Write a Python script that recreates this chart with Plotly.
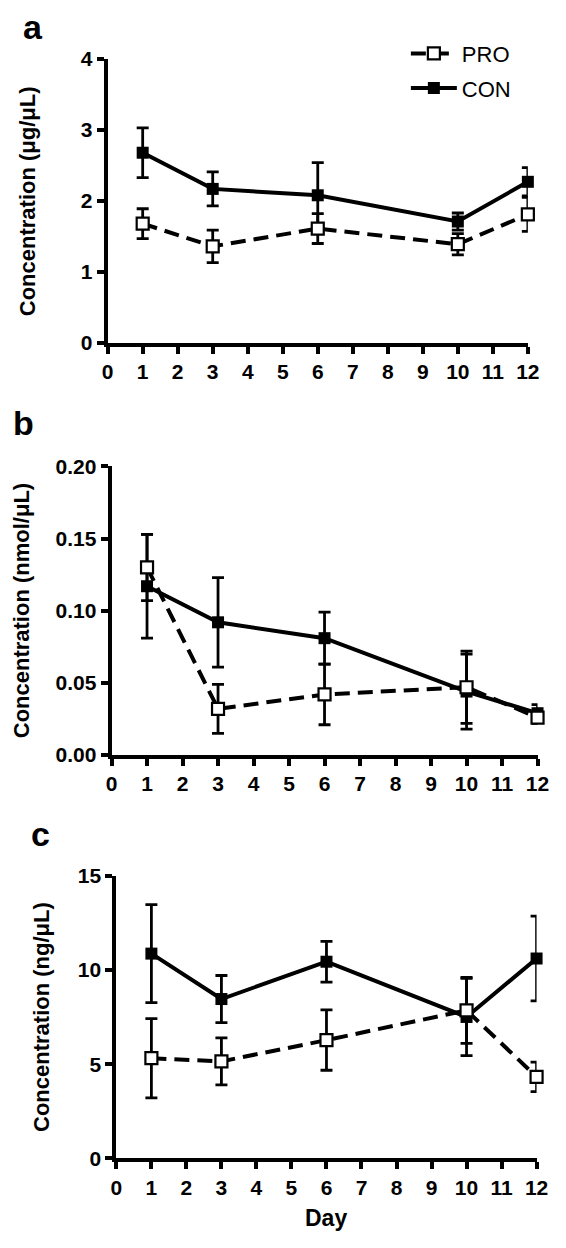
import plotly.graph_objects as go

days = [1, 3, 6, 10, 12]

# Panel a (µg/µL)
a_con = [2.68, 2.17, 2.08, 1.71, 2.27]
a_con_err = [0.35, 0.24, 0.46, 0.12, 0.20]
a_pro = [1.68, 1.36, 1.61, 1.39, 1.81]
a_pro_err = [0.21, 0.23, 0.21, 0.15, 0.24]

# Panel b (nmol/µL)
b_con = [0.117, 0.092, 0.081, 0.044, 0.029]
b_con_err = [0.036, 0.031, 0.018, 0.026, 0.006]
b_pro = [0.130, 0.032, 0.042, 0.047, 0.026]
b_pro_err = [0.023, 0.017, 0.021, 0.025, 0.004]

# Panel c (ng/µL)
c_con = [10.87, 8.46, 10.44, 7.51, 10.61]
c_con_err = [2.6, 1.25, 1.08, 2.05, 2.25]
c_pro = [5.32, 5.15, 6.28, 7.86, 4.33]
c_pro_err = [2.1, 1.25, 1.6, 1.75, 0.78]

x_ticks = list(range(0, 13))
a_yticks = [0, 1, 2, 3, 4]
b_yticks = [0.0, 0.05, 0.10, 0.15, 0.20]
c_yticks = [0, 5, 10, 15]

panel_labels = ["a", "b", "c"]
y_titles = ["Concentration (μg/μL)", "Concentration (nmol/μL)", "Concentration (ng/μL)"]
x_title = "Day"

W, H = 566, 1248
FONT = "Liberation Sans, Arial, Helvetica, sans-serif"

# pixel boxes (left, right, top, bottom)
boxes = [(105, 539, 48, 337), (109, 549, 463, 757), (114, 548, 880, 1168)]

fig = go.Figure()

panels = [
    (a_con, a_con_err, a_pro, a_pro_err),
    (b_con, b_con_err, b_pro, b_pro_err),
    (c_con, c_con_err, c_pro, c_pro_err),
]

for i, (con, con_e, pro, pro_e) in enumerate(panels):
    xa = "x" if i == 0 else f"x{i+1}"
    ya = "y" if i == 0 else f"y{i+1}"
    fig.add_trace(go.Scatter(
        x=days, y=con, name="CON", mode="lines+markers",
        xaxis=xa, yaxis=ya, cliponaxis=False,
        line=dict(color="black", width=4),
        marker=dict(symbol="square", size=12, color="black"),
        error_y=dict(type="data", array=con_e, color="black", thickness=2.8, width=6),
        showlegend=(i == 0), legendgroup="con", legendrank=2,
    ))
    fig.add_trace(go.Scatter(
        x=days, y=pro, name="PRO", mode="lines+markers",
        xaxis=xa, yaxis=ya, cliponaxis=False,
        line=dict(color="black", width=4, dash="15px,8px"),
        marker=dict(symbol="square", size=12, color="white", line=dict(color="black", width=2.2)),
        error_y=dict(type="data", array=pro_e, color="black", thickness=2.8, width=6),
        showlegend=(i == 0), legendgroup="pro", legendrank=1,
    ))

axis_common = dict(
    showline=True, linecolor="black", linewidth=4,
    ticks="outside", ticklen=7, tickwidth=4, tickcolor="black",
    showgrid=False, zeroline=False,
    tickfont=dict(family=FONT, size=21, color="black", weight="bold"),
)

yranges = [(0, 4), (0, 0.2), (0, 15)]
ytickvals = [a_yticks, b_yticks, c_yticks]
ytext = [[str(v) for v in a_yticks], [f"{v:.2f}" for v in b_yticks], [str(v) for v in c_yticks]]

layout = {}
for i, (l, r, t, b) in enumerate(boxes):
    suffix = "" if i == 0 else str(i + 1)
    layout[f"xaxis{suffix}"] = dict(
        domain=[l / W, r / W], range=[0, 12], anchor=f"y{suffix}",
        tickvals=x_ticks, ticktext=[str(v) for v in x_ticks], **axis_common,
    )
    layout[f"yaxis{suffix}"] = dict(
        domain=[1 - b / H, 1 - t / H], range=list(yranges[i]), anchor=f"x{suffix}",
        tickvals=ytickvals[i], ticktext=ytext[i], **axis_common,
    )

annotations = []
label_pos = [(15, 15), (5, 419), (24, 837)]
title_x = [23, 16, 36]
for i, (l, r, t, b) in enumerate(boxes):
    annotations.append(dict(
        text=panel_labels[i], x=label_pos[i][0] / W, y=1 - label_pos[i][1] / H,
        xref="paper", yref="paper", xanchor="left", yanchor="middle", showarrow=False,
        font=dict(family=FONT, size=34, color="black", weight="bold"),
    ))
    annotations.append(dict(
        text=y_titles[i], x=title_x[i] / W, y=1 - (t + b) / 2 / H,
        xref="paper", yref="paper", xanchor="center", yanchor="middle", showarrow=False,
        textangle=-90,
        font=dict(family=FONT, size=22, color="black", weight="bold"),
    ))
annotations.append(dict(
    text=x_title, x=((boxes[2][0] + boxes[2][1]) / 2) / W, y=1 - 1229 / H,
    xref="paper", yref="paper", xanchor="center", yanchor="middle", showarrow=False,
    font=dict(family=FONT, size=23, color="black", weight="bold"),
))

fig.update_layout(
    width=W, height=H,
    margin=dict(l=0, r=0, t=0, b=0),
    paper_bgcolor="white", plot_bgcolor="white",
    showlegend=True,
    legend=dict(
        x=413 / W, y=1 - 21 / H, xanchor="left", yanchor="top",
        bgcolor="rgba(0,0,0,0)", traceorder="grouped", tracegroupgap=3,
        itemwidth=46,
        font=dict(family=FONT, size=22, color="black"),
    ),
    annotations=annotations,
    **layout,
)

fig.write_html(
    "out.html",
    config={"displayModeBar": False},
    post_script="document.body.style.margin='0';document.body.style.overflow='hidden';",
)
